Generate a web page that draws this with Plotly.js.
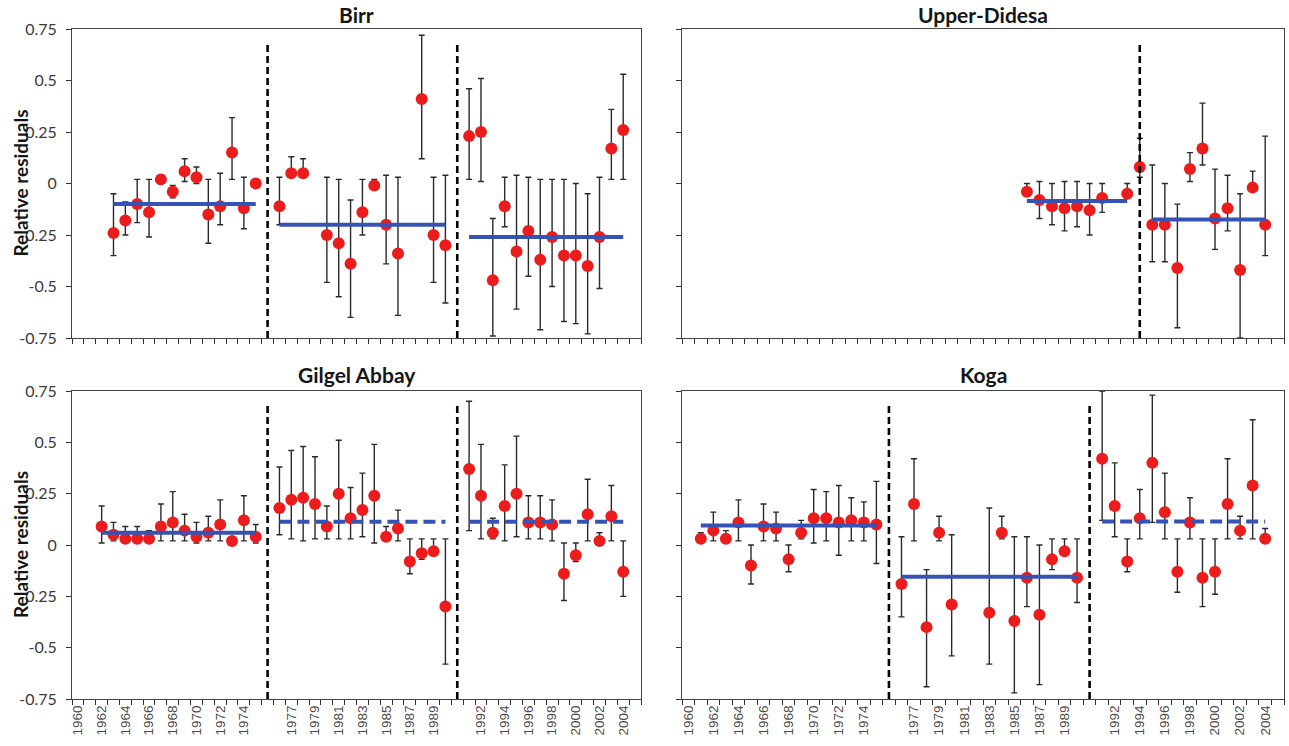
<!DOCTYPE html>
<html>
<head>
<meta charset="utf-8">
<script src="https://cdn.plot.ly/plotly-3.0.1.min.js"></script>
<style>
  html, body { margin: 0; padding: 0; background: #ffffff; }
  #chart { width: 1289px; height: 746px; }
</style>
</head>
<body>
<div id="chart"></div>
<script>
// ---------------- DATA ----------------
// x categories (the two "gap" categories hold the period breaks)
const categories = ['1960','1961','1962','1963','1964','1965','1966','1967','1968','1969','1970','1971','1972','1973','1974','1975','gap1',
  '1976','1977','1978','1979','1980','1981','1982','1983','1984','1985','1986','1987','1988','1989','1990','gap2',
  '1991','1992','1993','1994','1995','1996','1997','1998','1999','2000','2001','2002','2003','2004','2005'];
const tickLabels = ['1960','','1962','','1964','','1966','','1968','','1970','','1972','','1974','','',
  '','1977','','1979','','1981','','1983','','1985','','1987','','1989','','',
  '','1992','','1994','','1996','','1998','','2000','','2002','','2004',''];
const yTickValues = [0.75, 0.5, 0.25, 0, -0.25, -0.5, -0.75];
const yTickLabels = ['0.75', '0.5', '0.25', '0', '-0.25', '-0.5', '-0.75'];
const stationNames = ['Birr', 'Upper-Didesa', 'Gilgel Abbay', 'Koga'];
const yAxisTitle = 'Relative residuals';

// --- Birr ---
const birrYears = ['1963','1964','1965','1966','1967','1968','1969','1970','1971','1972','1973','1974','1975',
  '1976','1977','1978','1980','1981','1982','1983','1984','1985','1986','1988','1989','1990',
  '1991','1992','1993','1994','1995','1996','1997','1998','1999','2000','2001','2002','2003','2004'];
const birrValue = [-0.24,-0.18,-0.10,-0.14,0.02,-0.04,0.06,0.03,-0.15,-0.11,0.15,-0.12,0.00,
  -0.11,0.05,0.05,-0.25,-0.29,-0.39,-0.14,-0.01,-0.20,-0.34,0.41,-0.25,-0.30,
  0.23,0.25,-0.47,-0.11,-0.33,-0.23,-0.37,-0.26,-0.35,-0.35,-0.40,-0.26,0.17,0.26];
const birrHigh = [-0.05,-0.09,0.02,0.02,0.04,-0.01,0.12,0.08,0.02,0.05,0.32,0.03,0.00,
  0.03,0.13,0.12,0.03,0.02,-0.08,0.02,0.02,0.04,0.03,0.72,0.03,0.04,
  0.46,0.51,-0.17,0.03,0.04,0.03,0.02,0.02,0.02,0.00,-0.05,0.03,0.36,0.53];
const birrLow = [-0.35,-0.25,-0.19,-0.26,0.00,-0.07,0.01,0.00,-0.29,-0.20,0.02,-0.22,0.00,
  -0.20,0.04,0.03,-0.48,-0.55,-0.65,-0.25,-0.02,-0.39,-0.64,0.12,-0.48,-0.58,
  0.02,0.01,-0.74,-0.21,-0.61,-0.45,-0.71,-0.50,-0.67,-0.68,-0.73,-0.51,0.02,0.02];
const birrBreaks = ['gap1', 'gap2'];
const birrMeanStart = ['1963', '1976', '1991'];
const birrMeanEnd = ['1975', '1990', '2004'];
const birrMeanValue = [-0.10, -0.20, -0.26];
const birrMeanDashed = [false, false, false];

// --- Upper-Didesa ---
const didesaYears = ['1986','1987','1988','1989','1990','gap2','1991','1993','1994',
  '1995','1996','1997','1998','1999','2000','2001','2002','2003','2004'];
const didesaValue = [-0.04,-0.08,-0.11,-0.12,-0.11,-0.13,-0.07,-0.05,0.08,
  -0.20,-0.20,-0.41,0.07,0.17,-0.17,-0.12,-0.42,-0.02,-0.20];
const didesaHigh = [0.00,0.01,0.00,0.01,0.01,0.00,0.00,0.00,0.22,
  0.09,0.00,-0.10,0.15,0.39,0.07,0.04,-0.05,0.06,0.23];
const didesaLow = [-0.06,-0.17,-0.20,-0.23,-0.21,-0.25,-0.14,-0.07,0.03,
  -0.38,-0.38,-0.70,0.01,0.09,-0.32,-0.23,-0.75,0.00,-0.35];
const didesaBreaks = ['1994'];
const didesaMeanStart = ['1986', '1995'];
const didesaMeanEnd = ['1993', '2004'];
const didesaMeanValue = [-0.085, -0.175];
const didesaMeanDashed = [false, false];

// --- Gilgel Abbay ---
const gilgelYears = ['1962','1963','1964','1965','1966','1967','1968','1969','1970','1971','1972','1973','1974','1975',
  '1976','1977','1978','1979','1980','1981','1982','1983','1984','1985','1986','1987','1988','1989','1990',
  '1991','1992','1993','1994','1995','1996','1997','1998','1999','2000','2001','2002','2003','2004'];
const gilgelValue = [0.09,0.05,0.03,0.03,0.03,0.09,0.11,0.07,0.04,0.06,0.10,0.02,0.12,0.04,
  0.18,0.22,0.23,0.20,0.09,0.25,0.13,0.17,0.24,0.04,0.08,-0.08,-0.04,-0.03,-0.30,
  0.37,0.24,0.06,0.19,0.25,0.11,0.11,0.10,-0.14,-0.05,0.15,0.02,0.14,-0.13];
const gilgelHigh = [0.19,0.11,0.09,0.09,0.07,0.20,0.26,0.15,0.11,0.14,0.22,0.03,0.24,0.10,
  0.38,0.46,0.48,0.43,0.19,0.51,0.28,0.35,0.49,0.09,0.17,0.03,0.03,0.03,0.03,
  0.70,0.49,0.13,0.39,0.53,0.24,0.24,0.22,0.01,0.01,0.32,0.06,0.29,0.02];
const gilgelLow = [0.01,0.02,0.01,0.01,0.01,0.02,0.02,0.02,0.01,0.02,0.02,0.01,0.02,0.01,
  0.05,0.03,0.02,0.03,0.03,0.03,0.03,0.04,0.01,0.02,0.02,-0.14,-0.07,-0.05,-0.58,
  0.07,0.03,0.03,0.02,0.04,0.03,0.03,0.02,-0.27,-0.08,0.02,0.01,0.02,-0.25];
const gilgelBreaks = ['gap1', 'gap2'];
const gilgelMeanStart = ['1962', '1976', '1991'];
const gilgelMeanEnd = ['1975', '1990', '2004'];
const gilgelMeanValue = [0.06, 0.113, 0.113];
const gilgelMeanDashed = [false, true, true];

// --- Koga ---
const kogaYears = ['1961','1962','1963','1964','1965','1966','1967','1968','1969','1970','1971','1972','1973','1974','1975',
  '1976','1977','1978','1979','1980','1983','1984','1985','1986','1987','1988','1989','1990',
  '1991','1992','1993','1994','1995','1996','1997','1998','1999','2000','2001','2002','2003','2004'];
const kogaValue = [0.03,0.07,0.03,0.11,-0.10,0.09,0.08,-0.07,0.06,0.13,0.13,0.11,0.12,0.11,0.10,
  -0.19,0.20,-0.40,0.06,-0.29,-0.33,0.06,-0.37,-0.16,-0.34,-0.07,-0.03,-0.16,
  0.42,0.19,-0.08,0.13,0.40,0.16,-0.13,0.11,-0.16,-0.13,0.20,0.07,0.29,0.03];
const kogaHigh = [0.06,0.16,0.07,0.22,0.00,0.20,0.16,0.00,0.12,0.27,0.26,0.29,0.23,0.21,0.31,
  0.04,0.42,-0.12,0.14,0.05,0.18,0.14,0.04,0.04,0.00,0.03,0.03,0.03,
  0.75,0.40,0.03,0.27,0.73,0.35,0.03,0.23,0.03,0.03,0.42,0.14,0.61,0.08];
const kogaLow = [0.02,0.02,0.02,0.02,-0.19,0.02,0.02,-0.13,0.03,0.01,0.02,-0.05,0.02,0.02,-0.09,
  -0.35,0.02,-0.69,0.02,-0.54,-0.58,0.03,-0.72,-0.30,-0.68,-0.12,-0.05,-0.28,
  0.12,0.04,-0.13,0.03,0.11,0.03,-0.23,0.03,-0.30,-0.24,0.03,0.03,0.03,0.02];
const kogaBreaks = ['gap1', 'gap2'];
const kogaMeanStart = ['1961', '1976', '1991'];
const kogaMeanEnd = ['1975', '1990', '2004'];
const kogaMeanValue = [0.095, -0.155, 0.115];
const kogaMeanDashed = [false, false, true];

// ---------------- STYLE / LAYOUT ----------------
const W = 1289, H = 746;
const px2x = p => p / W;
const px2y = p => 1 - p / H;
const panels = [
  {name: stationNames[0], xa: 'x',  ya: 'y',  xd: [72, 641],  yd: [29, 338],  left: true,  bottom: false, titleY: 14},
  {name: stationNames[1], xa: 'x2', ya: 'y2', xd: [682, 1284], yd: [29, 338],  left: false, bottom: false, titleY: 14},
  {name: stationNames[2], xa: 'x3', ya: 'y3', xd: [72, 641],  yd: [391, 699], left: true,  bottom: true,  titleY: 374},
  {name: stationNames[3], xa: 'x4', ya: 'y4', xd: [682, 1284], yd: [391, 699], left: false, bottom: true,  titleY: 374}
];
const stations = [
  {years: birrYears, value: birrValue, high: birrHigh, low: birrLow, breaks: birrBreaks,
   ms: birrMeanStart, me: birrMeanEnd, mv: birrMeanValue, md: birrMeanDashed},
  {years: didesaYears, value: didesaValue, high: didesaHigh, low: didesaLow, breaks: didesaBreaks,
   ms: didesaMeanStart, me: didesaMeanEnd, mv: didesaMeanValue, md: didesaMeanDashed},
  {years: gilgelYears, value: gilgelValue, high: gilgelHigh, low: gilgelLow, breaks: gilgelBreaks,
   ms: gilgelMeanStart, me: gilgelMeanEnd, mv: gilgelMeanValue, md: gilgelMeanDashed},
  {years: kogaYears, value: kogaValue, high: kogaHigh, low: kogaLow, breaks: kogaBreaks,
   ms: kogaMeanStart, me: kogaMeanEnd, mv: kogaMeanValue, md: kogaMeanDashed}
];

const RED = '#ec1c1c', BLUE = '#3553b5', BAR = '#2a2a2a';
const breakTop = 0.69, breakBottom = -0.75;

const traces = [];
const layout = {
  width: W, height: H,
  margin: {l: 0, r: 0, t: 0, b: 0},
  paper_bgcolor: '#ffffff', plot_bgcolor: '#ffffff',
  showlegend: false,
  annotations: [],
  font: {family: 'Lato, "Open Sans", sans-serif'}
};

panels.forEach((p, i) => {
  const s = stations[i];
  // points with error bars
  traces.push({
    type: 'scatter', mode: 'markers', xaxis: p.xa, yaxis: p.ya,
    x: s.years, y: s.value,
    marker: {color: RED, size: 12, line: {width: 0}},
    error_y: {
      type: 'data', symmetric: false,
      array: s.high.map((h, k) => Math.max(0, h - s.value[k])),
      arrayminus: s.low.map((l, k) => Math.max(0, s.value[k] - l)),
      color: BAR, thickness: 1.4, width: 3
    },
    hoverinfo: 'x+y'
  });
  // mean lines per period
  s.mv.forEach((v, k) => {
    traces.push({
      type: 'scatter', mode: 'lines', xaxis: p.xa, yaxis: p.ya,
      x: [s.ms[k], s.me[k]], y: [v, v],
      line: {color: BLUE, width: 4, dash: s.md[k] ? '12px,6px' : 'solid'},
      hoverinfo: 'skip'
    });
  });
  // period breaks
  s.breaks.forEach(b => {
    traces.push({
      type: 'scatter', mode: 'lines', xaxis: p.xa, yaxis: p.ya,
      x: [b, b], y: [breakBottom, breakTop],
      line: {color: '#000000', width: 2.6, dash: '7px,4px'},
      hoverinfo: 'skip'
    });
  });

  const xName = 'xaxis' + (i === 0 ? '' : (i + 1));
  const yName = 'yaxis' + (i === 0 ? '' : (i + 1));
  layout[xName] = {
    domain: [px2x(p.xd[0]), px2x(p.xd[1])],
    anchor: p.ya,
    type: 'category',
    categoryorder: 'array', categoryarray: categories,
    range: [-0.5, categories.length - 0.5],
    tickmode: 'array', tickvals: categories, ticktext: tickLabels,
    tickson: 'boundaries',
    ticks: 'outside', ticklen: 5, tickwidth: 1, tickcolor: '#333',
    showticklabels: p.bottom,
    tickangle: -90,
    tickfont: {family: '"Liberation Sans", Arial, sans-serif', size: 13.5, color: '#4a4a4a'},
    showline: true, mirror: true, linecolor: '#444', linewidth: 1,
    showgrid: false, zeroline: false, fixedrange: true
  };
  layout[yName] = {
    domain: [px2y(p.yd[1]), px2y(p.yd[0])],
    anchor: p.xa,
    range: [-0.75, 0.75],
    tickmode: 'array', tickvals: yTickValues, ticktext: yTickLabels,
    ticks: 'outside', ticklen: 5, tickwidth: 1, tickcolor: '#333',
    showticklabels: p.left,
    ticklabelstandoff: 6,
    tickfont: {family: 'Lato, "Open Sans", sans-serif', size: 16, color: '#3a3a3a'},
    showline: true, mirror: true, linecolor: '#444', linewidth: 1,
    showgrid: false, zeroline: false, fixedrange: true
  };
  layout.annotations.push({
    xref: 'paper', yref: 'paper',
    x: px2x((p.xd[0] + p.xd[1]) / 2), y: px2y(p.titleY),
    xanchor: 'center', yanchor: 'middle', showarrow: false,
    text: '<b>' + p.name + '</b>',
    font: {family: 'Lato, "Open Sans", sans-serif', size: 21, color: '#151515'}
  });
  if (p.left) {
    layout.annotations.push({
      xref: 'paper', yref: 'paper',
      x: px2x(20), y: px2y((p.yd[0] + p.yd[1]) / 2),
      xanchor: 'center', yanchor: 'middle', showarrow: false, textangle: -90,
      text: '<b>' + yAxisTitle + '</b>',
      font: {family: 'Lato, "Open Sans", sans-serif', size: 19, color: '#151515'}
    });
  }
});

Plotly.newPlot('chart', traces, layout, {displayModeBar: false, staticPlot: true});
</script>
</body>
</html>
